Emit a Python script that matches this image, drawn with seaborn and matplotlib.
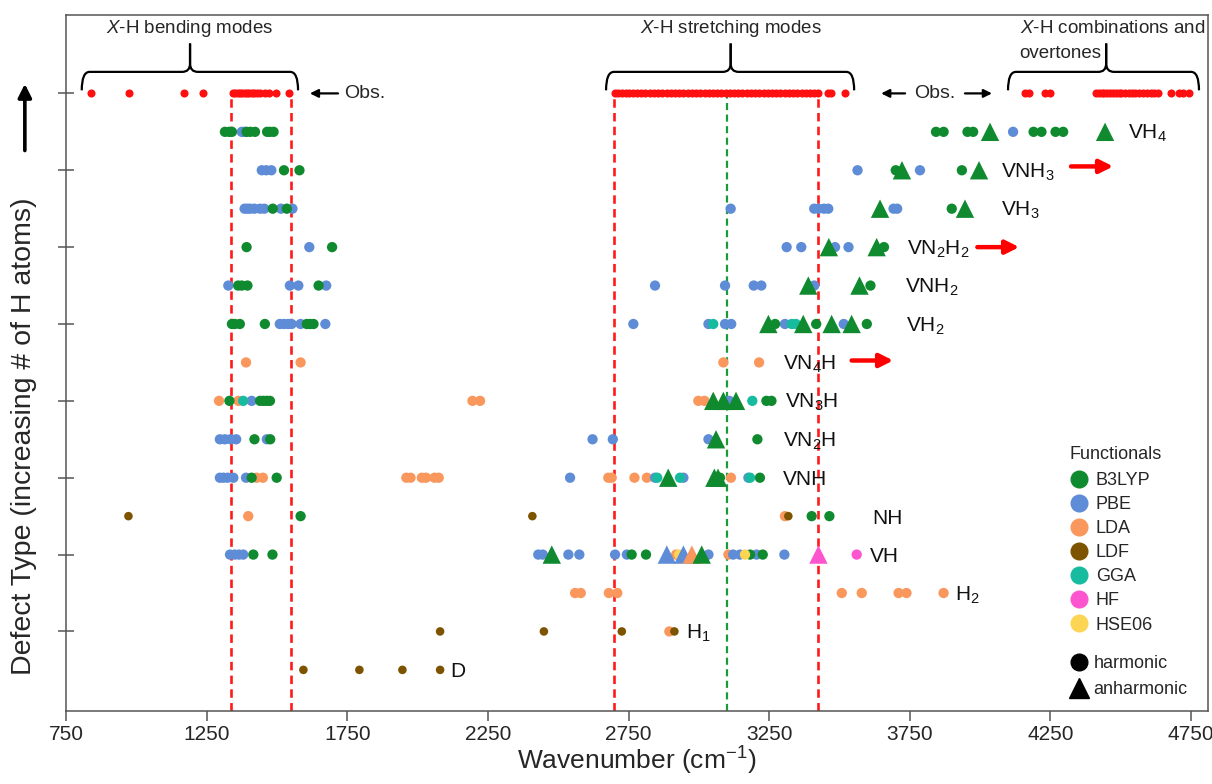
import numpy as np
import pandas as pd
import matplotlib
matplotlib.use("Agg")
import matplotlib.pyplot as plt
import seaborn as sns
from matplotlib.lines import Line2D
from matplotlib.path import Path
from matplotlib.patches import PathPatch

# ---------------- data ----------------
row_keys = ["D", "H1", "H2", "VH", "NH", "VNH", "VN2H", "VN3H", "VN4H",
            "VH2", "VNH2", "VN2H2", "VH3", "VNH3", "VH4", "Obs"]
row_labels = {"D": "D", "H1": "H$_1$", "H2": "H$_2$", "VH": "VH", "NH": "NH",
              "VNH": "VNH", "VN2H": "VN$_2$H", "VN3H": "VN$_3$H", "VN4H": "VN$_4$H",
              "VH2": "VH$_2$", "VNH2": "VNH$_2$", "VN2H2": "VN$_2$H$_2$",
              "VH3": "VH$_3$", "VNH3": "VNH$_3$", "VH4": "VH$_4$"}
label_x = {"D": 2115, "H1": 2953, "H2": 3911, "VH": 3609, "NH": 3615, "VNH": 3300,
           "VN2H": 3298, "VN3H": 3306, "VN4H": 3298, "VH2": 3737, "VNH2": 3733,
           "VN2H2": 3739, "VH3": 4075, "VNH3": 4075, "VH4": 4526}

obs_bending = [839, 975, 1170, 1238, 1343, 1352, 1360, 1368, 1377, 1385, 1393, 1402,
               1410, 1418, 1428, 1438, 1458, 1472, 1497, 1544]
obs_stretching = [2702, 2712, 2725, 2740, 2752, 2765, 2780, 2795, 2810, 2825, 2840,
                  2855, 2870, 2885, 2900, 2915, 2930, 2945, 2960, 2975, 2990, 3005,
                  3020, 3035, 3050, 3065, 3080, 3095, 3110, 3125, 3140, 3155, 3170,
                  3185, 3200, 3215, 3230, 3245, 3260, 3275, 3290, 3305, 3320, 3335,
                  3350, 3365, 3380, 3395, 3410, 3425, 3458, 3470, 3520]
obs_combination = [4160, 4175, 4232, 4247, 4412, 4422, 4432, 4442, 4452, 4462, 4472,
                   4482, 4492, 4502, 4514, 4528, 4540, 4552, 4565, 4578, 4592, 4606,
                   4619, 4632, 4680, 4708, 4722, 4742]

B3LYP_harmonic = {
    "VH4": [1315, 1330, 1340, 1392, 1405, 1422, 1465, 1475, 1488,
            3843, 3870, 3955, 3975, 4190, 4218, 4268, 4295],
    "VNH3": [1525, 1580, 3700, 3935],
    "VH3": [1485, 1535, 3899],
    "VN2H2": [1392, 1696, 3658],
    "VNH2": [1362, 1375, 1395, 1648, 3610],
    "VH2": [1340, 1350, 1368, 1457, 1606, 1618, 1630, 3271, 3417, 3597],
    "VN3H": [1331, 1440, 1452, 1464, 1475, 3240, 3258],
    "VN2H": [1420, 1476, 3208],
    "VNH": [1410, 1499, 3075, 3217],
    "NH": [1584, 3401, 3464],
    "VH": [1416, 1484, 2761, 2812, 3182, 3227],
}
B3LYP_anharmonic = {
    "VH4": [4035, 4444], "VNH3": [3722, 3996], "VH3": [3644, 3946],
    "VN2H2": [3462, 3632], "VNH2": [3389, 3571], "VH2": [3247, 3371, 3472, 3543],
    "VN3H": [3051, 3087, 3132], "VN2H": [3061], "VNH": [2891, 3055, 3068],
    "VH": [2477, 3010],
}
PBE_harmonic = {
    "VH4": [1375, 1385, 4117],
    "VNH3": [1446, 1462, 1480, 3564, 3786],
    "VH3": [1385, 1395, 1405, 1420, 1440, 1455, 1514, 1555, 3113, 3410, 3425, 3445,
            3460, 3692, 3705],
    "VN2H2": [1615, 3312, 3364, 3484, 3532],
    "VNH2": [1327, 1546, 1576, 1675, 2844, 3093, 3195, 3222, 3410],
    "VH2": [1510, 1525, 1540, 1552, 1584, 1672, 2767, 3034, 3093, 3115, 3306, 3515],
    "VN3H": [1410, 3108],
    "VN2H": [1297, 1315, 1335, 1355, 1464, 2622, 2694, 3034],
    "VNH": [1297, 1310, 1325, 1345, 1390, 2542, 2844, 2945, 3176],
    "VH": [1333, 1350, 1365, 1380, 2429, 2445, 2536, 2575, 2702, 2744, 3034, 3122,
           3146, 3205, 3304],
}
PBE_anharmonic = {"VH": [2886, 2945]}
LDA_harmonic = {
    "VN4H": [1390, 1584, 3087, 3214],
    "VN3H": [1294, 1363, 2195, 2222, 2998, 3020],
    "VNH": [1428, 1450, 1960, 1975, 2015, 2030, 2060, 2075, 2678, 2690, 2771, 2815, 3114],
    "NH": [1398, 3306],
    "VH": [2919, 3105],
    "H2": [2560, 2580, 2680, 2710, 3508, 3579, 3710, 3738, 3870],
    "H1": [2895],
}
LDA_anharmonic = {"VH": [2975]}
LDF_harmonic = {"NH": [972, 2408, 3318], "H1": [2080, 2449, 2726, 2913],
                "D": [1594, 1793, 1946, 2080]}
GGA_harmonic = {"VH2": [3051, 3330, 3345], "VN3H": [1380, 3190], "VNH": [2852, 2933, 3182]}
HF_harmonic = {"VH": [3561]}
HF_anharmonic = {"VH": [3425]}
HSE06_harmonic = {"VH": [2930, 3164]}

functionals = ["B3LYP", "PBE", "LDA", "LDF", "GGA", "HF", "HSE06"]
palette = {"B3LYP": "#0f8a2f", "PBE": "#5f8cd6", "LDA": "#f9975c", "LDF": "#7d5300",
           "GGA": "#17bca0", "HF": "#fd55cf", "HSE06": "#fdd555"}

obs_lines = [1335, 1550, 2700, 3425]
calc_line = 3100

# ---------------- build tables ----------------
def table(d, func, mode):
    recs = []
    for k, vals in d.items():
        for v in vals:
            recs.append({"functional": func, "mode": mode, "y": row_keys.index(k), "x": v})
    return recs

draw_order = [("LDA", LDA_harmonic), ("PBE", PBE_harmonic), ("B3LYP", B3LYP_harmonic),
              ("GGA", GGA_harmonic), ("LDF", LDF_harmonic), ("HSE06", HSE06_harmonic),
              ("HF", HF_harmonic)]
harm = pd.DataFrame([r for f, d in draw_order for r in table(d, f, "harmonic")])
anh_order = [("PBE", PBE_anharmonic), ("LDA", LDA_anharmonic), ("B3LYP", B3LYP_anharmonic),
             ("HF", HF_anharmonic)]
anh = pd.DataFrame([r for f, d in anh_order for r in table(d, f, "anharmonic")])
obs = pd.DataFrame({"x": obs_bending + obs_stretching + obs_combination})
obs["y"] = row_keys.index("Obs")

# ---------------- style ----------------
sns.set_style("white")
plt.rcParams["font.family"] = ["Liberation Sans", "DejaVu Sans"]
plt.rcParams["mathtext.fontset"] = "custom"
plt.rcParams["mathtext.rm"] = "Liberation Sans"
plt.rcParams["mathtext.it"] = "Liberation Sans:italic"
plt.rcParams["mathtext.bf"] = "Liberation Sans:bold"

fig = plt.figure(figsize=(12.12, 7.84), dpi=100)
ax = fig.add_axes([66 / 1212, 1 - 711 / 784, (1208 - 66) / 1212, (711 - 15) / 784])

YMIN, YMAX = -1.07, 17.04
# dashed reference lines
dash = (0, (3.2, 2.0))
ax.vlines(obs_lines, YMIN, 15, colors="#ff1a1a", linestyles=dash, lw=1.9, zorder=1)
ax.vlines([calc_line], YMIN, 15, colors="#1a9a3a", linestyles=dash, lw=1.6, zorder=1)

# observed
sns.scatterplot(data=obs, x="x", y="y", color="#ff1010", s=34, linewidth=0, ax=ax,
                zorder=3, legend=False)

# harmonic (circles)
small = harm["functional"].isin(["LDF"])
sns.scatterplot(data=harm[~small], x="x", y="y", hue="functional", palette=palette,
                s=55, marker="o", linewidth=0, ax=ax, legend=False, zorder=3)
sns.scatterplot(data=harm[small], x="x", y="y", hue="functional", palette=palette,
                s=38, marker="o", linewidth=0, ax=ax, legend=False, zorder=3)
# anharmonic (triangles)
sns.scatterplot(data=anh, x="x", y="y", hue="functional", palette=palette,
                s=175, marker="^", linewidth=0, ax=ax, legend=False, zorder=4)

# row labels
for k, lx in label_x.items():
    ax.text(lx, row_keys.index(k) - 0.05, row_labels[k], fontsize=15, va="center",
            ha="left", color="#111111", zorder=5)

# red arrows (offscale)
for (x0, x1, yy) in [(4323, 4473, 13.1), (3990, 4139, 11.0), (3543, 3691, 8.05)]:
    ax.annotate("", xy=(x1, yy), xytext=(x0, yy),
                arrowprops=dict(arrowstyle="-|>", color="#ff0000", lw=3.2,
                                mutation_scale=20, shrinkA=0, shrinkB=0))

# Obs. annotations
def harrow(x0, x1, yy):
    ax.annotate("", xy=(x1, yy), xytext=(x0, yy),
                arrowprops=dict(arrowstyle="-|>", color="black", lw=1.6,
                                mutation_scale=12, shrinkA=0, shrinkB=0))
yobs = 15
harrow(1717, 1617, yobs)
ax.text(1738, yobs, "Obs.", fontsize=14, va="center", ha="left")
harrow(3733, 3648, yobs)
ax.text(3765, yobs, "Obs.", fontsize=14, va="center", ha="left")
harrow(3946, 4042, yobs)

# braces
def brace(x0, x1, xm, yb=15.08, yh=15.56, yp=16.3, rx=28, ry=0.22):
    for xs, sgn in [(x0, 1), (x1, -1)]:
        verts = [(xs, yb), (xs, yh), (xs + sgn * rx, yh),
                 (xm - sgn * rx, yh), (xm, yh), (xm, yh + ry), (xm, yp)]
        codes = [Path.MOVETO, Path.CURVE3, Path.CURVE3, Path.LINETO,
                 Path.CURVE3, Path.CURVE3, Path.LINETO]
        ax.add_patch(PathPatch(Path(verts, codes), fc="none", ec="black", lw=1.6,
                               zorder=5, capstyle="butt"))

brace(806, 1575, 1191)
brace(2670, 3552, 3113)
brace(4099, 4778, 4448)

ax.text(1191, 16.7, "$X$-H bending modes", fontsize=13.5, ha="center", va="center")
ax.text(3113, 16.7, "$X$-H stretching modes", fontsize=13.5, ha="center", va="center")
ax.text(4140, 16.7, "$X$-H combinations and", fontsize=13.5, ha="left", va="center")
ax.text(4140, 16.05, "overtones", fontsize=13.5, ha="left", va="center")

# axes
ax.set_xlim(750, 4810)
ax.set_ylim(YMIN, YMAX)
ax.set_xticks([750, 1250, 1750, 2250, 2750, 3250, 3750, 4250, 4750])
ax.set_yticks([1, 3, 5, 7, 9, 11, 13, 15])
ax.set_yticklabels([])
ax.tick_params(axis="x", direction="out", length=7, width=1.1, color="#555555",
               labelsize=15, pad=3, bottom=True)
ax.tick_params(axis="y", direction="inout", length=12, width=1.1, color="#555555",
               left=True)
for sp in ax.spines.values():
    sp.set_color("#555555")
    sp.set_linewidth(1.1)
ax.set_xlabel("Wavenumber (cm$^{-1}$)", fontsize=19, labelpad=1)
ax.set_ylabel("Defect Type (increasing # of H atoms)", fontsize=20.5)
ax.yaxis.set_label_coords(-0.025, 0.395)
ax.annotate("", xy=(0.0205, 0.893), xytext=(0.0205, 0.808), xycoords="figure fraction",
            textcoords="figure fraction", annotation_clip=False,
            arrowprops=dict(arrowstyle="-|>", color="black", lw=2.6, mutation_scale=20,
                            shrinkA=0, shrinkB=0))

# legends
ax.text(0.879, 0.368, "Functionals", transform=ax.transAxes, fontsize=13,
        ha="left", va="center")
h1 = [Line2D([], [], marker="o", ls="", markerfacecolor=palette[f], markeredgecolor=palette[f],
             markersize=12, label=f) for f in functionals]
leg1 = ax.legend(handles=h1, loc="upper left",
                 bbox_to_anchor=(0.879, 0.343), frameon=False, fontsize=13,
                 labelspacing=0.39, handletextpad=0.45,
                 handlelength=1.0, borderaxespad=0, borderpad=0)
ax.add_artist(leg1)
h2 = [Line2D([], [], marker="o", ls="", color="black", markersize=12, label="harmonic"),
      Line2D([], [], marker="^", ls="", color="black", markersize=15, label="anharmonic")]
ax.legend(handles=h2, loc="upper left", bbox_to_anchor=(0.879, 0.08), frameon=False,
          fontsize=13, labelspacing=0.5, handletextpad=0.3, handlelength=1.0,
          borderaxespad=0, borderpad=0)

fig.savefig("out.png", dpi=100)
